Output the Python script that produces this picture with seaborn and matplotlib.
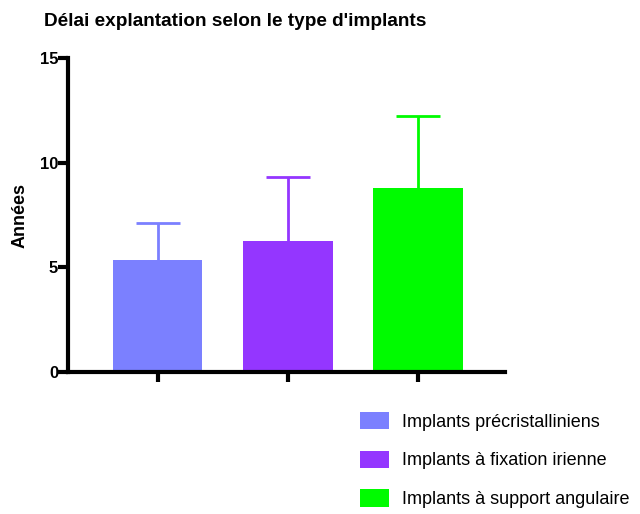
import matplotlib
matplotlib.use("Agg")
import matplotlib.pyplot as plt
import seaborn as sns
import pandas as pd
import numpy as np

categories = ["Implants précristalliniens", "Implants à fixation irienne", "Implants à support angulaire"]
means = [5.35, 6.24, 8.79]
sd = [1.78, 3.06, 3.44]
colors = ["#7b80ff", "#9436ff", "#00fb00"]
y_ticks = [0, 5, 10, 15]

sns.set_theme(style="white")
plt.rcParams["font.family"] = ["Liberation Sans", "DejaVu Sans"]
plt.rcParams["text.color"] = "black"
plt.rcParams["axes.labelcolor"] = "black"
plt.rcParams["xtick.color"] = "black"
plt.rcParams["ytick.color"] = "black"

df = pd.DataFrame({"type": categories, "delai": means})

fig = plt.figure(figsize=(6.4, 5.14), dpi=100)
ax = fig.add_axes([0.106, 0.276, 0.683, 0.611])

sns.barplot(data=df, x="type", y="delai", hue="type", palette=colors,
            width=0.69, saturation=1, legend=False, ax=ax, errorbar=None,
            linewidth=0)

# upper-only error bars (mean + SD) in each bar's colour
for i, (m, s, c) in enumerate(zip(means, sd, colors)):
    _, caps, _ = ax.errorbar(i, m, yerr=[[0], [s]], fmt="none", ecolor=c,
                             elinewidth=2, capsize=16, capthick=2, zorder=1)
    caps[0].set_visible(False)

ax.set_ylim(0, 15)
ax.set_xlim(-0.69, 2.67)
ax.set_yticks(y_ticks)
ax.set_yticklabels([str(t) for t in y_ticks], fontweight="bold", fontsize=12)
ax.set_xticks(range(len(categories)))
ax.set_xticklabels([])
ax.set_xlabel("")
ax.set_ylabel("Années", fontweight="bold", fontsize=13, labelpad=8)

fig.text(235 / 640, 1 - 21 / 514, "Délai explantation selon le type d'implants",
         fontweight="bold", fontsize=13.7, ha="center", va="center")

for side in ["top", "right"]:
    ax.spines[side].set_visible(False)
for side in ["left", "bottom"]:
    ax.spines[side].set_linewidth(3)
    ax.spines[side].set_color("black")
ax.tick_params(axis="both", direction="out", length=7, width=3, color="black",
               left=True, bottom=True, pad=0)

handles = [plt.Rectangle((0, 0), 1, 1, facecolor=c, edgecolor="none") for c in colors]
fig.legend(handles, categories, loc="upper left", bbox_to_anchor=(360 / 640, 1 - 412 / 514),
           frameon=False, fontsize=13, handlelength=1.6, handleheight=1.1,
           labelspacing=1.1, handletextpad=0.72, borderaxespad=0, borderpad=0)

fig.savefig("out.png", dpi=100)
